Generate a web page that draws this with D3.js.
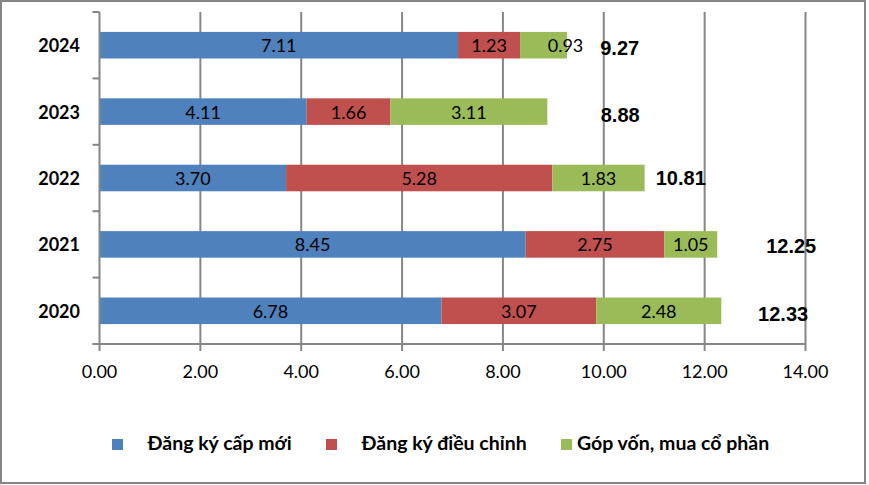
<!DOCTYPE html>
<html>
<head>
<meta charset="utf-8">
<script src="https://cdn.jsdelivr.net/npm/d3@7"></script>
<style>
  html, body { margin: 0; padding: 0; background: #fff; }
  svg { display: block; }
</style>
</head>
<body>
<svg id="chart" width="869" height="485"></svg>
<script>
// ---- data ----
const years = ["2024", "2023", "2022", "2021", "2020"];
const newRegistration = [7.11, 4.11, 3.70, 8.45, 6.78];
const adjustedRegistration = [1.23, 1.66, 5.28, 2.75, 3.07];
const capitalContribution = [0.93, 3.11, 1.83, 1.05, 2.48];
const totals = [9.27, 8.88, 10.81, 12.25, 12.33];
const xTicks = [0, 2, 4, 6, 8, 10, 12, 14];
const seriesNames = ["Đăng ký cấp mới", "Đăng ký điều chỉnh", "Góp vốn, mua cổ phần"];

// ---- layout / style ----
const colors = ["#4F81BD", "#C0504D", "#9BBB59"];
const gridColor = "#868686";
const plot = { left: 99.5, right: 805.5, top: 12, bottom: 344 };
// manual placement of the total labels (x in axis units, baseline dy from band centre)
const totalLabelX = [9.93, 9.94, 11.03, 13.22, 13.06];
const totalLabelDy = [9.5, 10.3, 6.7, 9, 10.4];

const svg = d3.select("#chart");

svg.append("rect")
  .attr("x", 1).attr("y", 1).attr("width", 864).attr("height", 482)
  .attr("fill", "#fff").attr("stroke", gridColor).attr("stroke-width", 2);

const x = d3.scaleLinear().domain([0, 14]).range([plot.left, plot.right]);
const y = d3.scaleBand().domain(years).range([plot.top, plot.bottom])
  .paddingInner(0.6).paddingOuter(0.3);

// vertical gridlines
svg.append("g").selectAll("line").data(xTicks.slice(1)).join("line")
  .attr("x1", d => x(d)).attr("x2", d => x(d))
  .attr("y1", plot.top).attr("y2", plot.bottom)
  .attr("stroke", gridColor).attr("stroke-width", 2);

// stacked bars
const rows = years.map((yr, i) => ({
  year: yr,
  vals: [newRegistration[i], adjustedRegistration[i], capitalContribution[i]]
}));
const segs = [];
rows.forEach((r, i) => {
  let acc = 0;
  r.vals.forEach((v, k) => {
    segs.push({ year: r.year, row: i, k, v, x0: acc, x1: acc + v });
    acc += v;
  });
});

svg.append("g").selectAll("rect").data(segs).join("rect")
  .attr("x", d => x(d.x0))
  .attr("width", d => x(d.x1) - x(d.x0))
  .attr("y", d => y(d.year))
  .attr("height", y.bandwidth())
  .attr("fill", d => colors[d.k]);

// segment labels
const labelDx = (d) => (d.row === 0 && d.k === 2) ? 22 : 0;
svg.append("g").selectAll("text").data(segs).join("text")
  .attr("x", d => (x(d.x0) + x(d.x1)) / 2 + labelDx(d))
  .attr("y", d => y(d.year) + y.bandwidth() / 2 + 7)
  .attr("text-anchor", "middle")
  .attr("font-family", "Lato, 'Open Sans', sans-serif")
  .attr("font-size", 18)
  .attr("fill", "#000")
  .text(d => d.v.toFixed(2));

// total labels
svg.append("g").selectAll("text").data(totals).join("text")
  .attr("x", (d, i) => x(totalLabelX[i]))
  .attr("y", (d, i) => y(years[i]) + y.bandwidth() / 2 + totalLabelDy[i])
  .attr("font-family", "'Liberation Sans', Arial, sans-serif")
  .attr("font-weight", "bold")
  .attr("font-size", 20)
  .attr("fill", "#000")
  .text(d => d.toFixed(2));

// left axis
const yAxisG = svg.append("g");
yAxisG.append("line")
  .attr("x1", plot.left).attr("x2", plot.left)
  .attr("y1", plot.top).attr("y2", plot.bottom)
  .attr("stroke", gridColor).attr("stroke-width", 2);
const boundaries = years.map(yr => y(yr) - y.step() * y.paddingOuter());
boundaries.push(plot.bottom);
yAxisG.selectAll("line.tick").data(boundaries).join("line").attr("class", "tick")
  .attr("x1", plot.left - 7).attr("x2", plot.left)
  .attr("y1", d => d).attr("y2", d => d)
  .attr("stroke", gridColor).attr("stroke-width", 2);
yAxisG.selectAll("text").data(years).join("text")
  .attr("x", 80)
  .attr("y", d => y(d) + y.bandwidth() / 2 + 7)
  .attr("text-anchor", "end")
  .attr("font-family", "Lato, 'Open Sans', sans-serif")
  .attr("font-weight", "bold")
  .attr("font-size", 18)
  .attr("fill", "#000")
  .text(d => d);

// bottom axis
const xAxisG = svg.append("g");
xAxisG.append("line")
  .attr("x1", plot.left - 7).attr("x2", plot.right)
  .attr("y1", plot.bottom).attr("y2", plot.bottom)
  .attr("stroke", gridColor).attr("stroke-width", 2);
xAxisG.selectAll("line.tick").data(xTicks).join("line").attr("class", "tick")
  .attr("x1", d => x(d)).attr("x2", d => x(d))
  .attr("y1", plot.bottom).attr("y2", plot.bottom + 7)
  .attr("stroke", gridColor).attr("stroke-width", 2);
xAxisG.selectAll("text").data(xTicks).join("text")
  .attr("x", d => x(d))
  .attr("y", 378)
  .attr("text-anchor", "middle")
  .attr("font-family", "Lato, 'Open Sans', sans-serif")
  .attr("font-size", 18)
  .attr("fill", "#000")
  .text(d => d.toFixed(2));

// legend
const legendSquareX = [112, 326, 561];
const legendTextX = [147.5, 361.5, 577];
const lg = svg.append("g");
seriesNames.forEach((name, i) => {
  lg.append("rect")
    .attr("x", legendSquareX[i]).attr("y", 439)
    .attr("width", 11).attr("height", 11)
    .attr("fill", colors[i]);
  lg.append("text")
    .attr("x", legendTextX[i]).attr("y", 450)
    .attr("font-family", "Lato, 'Open Sans', sans-serif")
    .attr("font-weight", "bold")
    .attr("font-size", 19.5)
    .attr("fill", "#000")
    .text(name);
});
</script>
</body>
</html>
